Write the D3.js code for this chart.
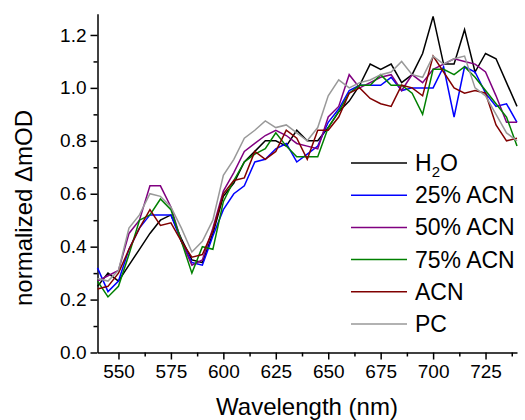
<!DOCTYPE html>
<html>
<head>
<meta charset="utf-8">
<script src="https://cdn.jsdelivr.net/npm/d3@7"></script>
<style>
  body { margin: 0; background: #fff; }
  svg { display: block; font-family: "Liberation Sans", Arial, sans-serif; }
  .axis path, .axis line { stroke: #000; stroke-width: 1.5; }
  .axis text { font-size: 19px; fill: #000; }
</style>
</head>
<body>
<svg id="chart" width="525" height="420"></svg>
<script>
const wavelengths = d3.range(540, 741, 5);

const h2o = [0.25, 0.30, 0.27, 0.33, 0.39, 0.45, 0.50, 0.52, 0.43, 0.35, 0.34, 0.45, 0.59, 0.64, 0.72, 0.76, 0.80, 0.80, 0.78, 0.84, 0.80,
  0.80, 0.85, 0.91, 0.95, 1.01, 1.09, 1.07, 1.09, 1.02, 1.05, 1.13, 1.27, 1.09, 1.09, 1.22, 1.06, 1.13, 1.11, 1.02, 0.93];
const acn25 = [0.32, 0.23, 0.27, 0.39, 0.47, 0.52, 0.52, 0.52, 0.42, 0.34, 0.33, 0.44, 0.54, 0.60, 0.63, 0.72, 0.73, 0.77, 0.79, 0.72, 0.75,
  0.78, 0.87, 0.92, 0.99, 1.01, 1.01, 1.01, 1.04, 0.99, 1.00, 1.00, 1.00, 1.08, 0.89, 1.08, 1.06, 0.98, 0.93, 0.94, 0.87];
const acn50 = [0.27, 0.29, 0.31, 0.45, 0.50, 0.63, 0.63, 0.55, 0.42, 0.33, 0.35, 0.47, 0.61, 0.68, 0.76, 0.79, 0.82, 0.84, 0.82, 0.79, 0.78,
  0.77, 0.89, 0.93, 1.05, 1.00, 1.02, 1.04, 1.05, 0.99, 1.05, 1.02, 1.07, 1.09, 1.11, 1.10, 1.09, 1.06, 0.97, 0.87, 0.87];
const acn75 = [0.27, 0.21, 0.25, 0.37, 0.50, 0.52, 0.58, 0.54, 0.42, 0.30, 0.40, 0.39, 0.57, 0.65, 0.72, 0.75, 0.77, 0.83, 0.78, 0.74, 0.74,
  0.74, 0.85, 0.91, 0.98, 1.01, 1.01, 1.05, 1.01, 1.01, 0.98, 0.90, 1.07, 1.07, 1.05, 1.08, 1.04, 0.99, 0.94, 0.89, 0.78];
const acn = [0.24, 0.25, 0.30, 0.39, 0.47, 0.54, 0.48, 0.49, 0.42, 0.36, 0.37, 0.46, 0.60, 0.65, 0.66, 0.76, 0.73, 0.76, 0.84, 0.81, 0.73,
  0.84, 0.84, 0.89, 0.98, 1.00, 0.96, 0.94, 0.93, 1.01, 1.00, 0.97, 1.12, 1.06, 1.00, 0.98, 0.99, 0.98, 0.86, 0.80, 0.81];
const pc = [0.28, 0.27, 0.31, 0.47, 0.52, 0.60, 0.59, 0.55, 0.47, 0.38, 0.42, 0.50, 0.67, 0.73, 0.81, 0.84, 0.875, 0.85, 0.86, 0.83, 0.80,
  0.85, 0.97, 1.03, 1.00, 1.02, 1.03, 1.05, 1.06, 1.10, 1.05, 1.04, 1.12, 1.09, 1.11, 1.12, 1.00, 0.97, 0.90, 0.83, 0.80];

const seriesNames = ['H2O', '25% ACN', '50% ACN', '75% ACN', 'ACN', 'PC'];
const seriesColors = ['#000000', '#0000ff', '#800080', '#008000', '#800000', '#999999'];
const seriesValues = [h2o, acn25, acn50, acn75, acn, pc];

const xTicks = [550, 575, 600, 625, 650, 675, 700, 725];
const xMinor = [562.5, 587.5, 612.5, 637.5, 662.5, 687.5, 712.5, 737.5];
const yTicks = [0, 0.2, 0.4, 0.6, 0.8, 1.0, 1.2];
const yMinor = [0.1, 0.3, 0.5, 0.7, 0.9, 1.1];

const svg = d3.select('#chart');

const x = d3.scaleLinear().domain([540, 740]).range([97.5, 517]);
const y = d3.scaleLinear().domain([0, 1.28]).range([352.5, 13.8]);

// minor ticks first so the major axis sits on top
svg.append('g')
  .attr('class', 'axis')
  .attr('transform', `translate(0,${y(0)})`)
  .call(d3.axisBottom(x).tickValues(xMinor).tickSize(4).tickFormat(''))
  .select('.domain').remove();

svg.append('g')
  .attr('class', 'axis')
  .attr('transform', `translate(${x(540)},0)`)
  .call(d3.axisLeft(y).tickValues(yMinor).tickSize(4).tickFormat(''))
  .select('.domain').remove();

svg.append('g')
  .attr('class', 'axis')
  .attr('transform', `translate(0,${y(0)})`)
  .call(d3.axisBottom(x).tickValues(xTicks).tickSizeInner(7).tickSizeOuter(0).tickPadding(5));

svg.append('g')
  .attr('class', 'axis')
  .attr('transform', `translate(${x(540)},0)`)
  .call(d3.axisLeft(y).tickValues(yTicks).tickSizeInner(7).tickSizeOuter(0).tickPadding(4)
    .tickFormat(d3.format('.1f')));

const line = d3.line()
  .x((d, i) => x(wavelengths[i]))
  .y(d => y(d));

svg.append('g')
  .selectAll('path')
  .data(seriesValues)
  .join('path')
  .attr('d', line)
  .attr('fill', 'none')
  .attr('stroke', (d, i) => seriesColors[i])
  .attr('stroke-width', 1.5)
  .attr('stroke-linejoin', 'miter');

// legend
const legend = svg.append('g').attr('transform', 'translate(351,163)');
const items = legend.selectAll('g')
  .data(seriesNames)
  .join('g')
  .attr('transform', (d, i) => `translate(0,${i * 32.2})`);

items.append('line')
  .attr('x1', 0).attr('x2', 56)
  .attr('stroke', (d, i) => seriesColors[i])
  .attr('stroke-width', 1.5);

items.append('text')
  .attr('x', 64)
  .attr('y', 8)
  .attr('font-size', 23)
  .each(function(d) {
    const t = d3.select(this);
    if (d === 'H2O') {
      t.append('tspan').text('H');
      t.append('tspan').attr('font-size', 15).attr('dy', 6).text('2');
      t.append('tspan').attr('dy', -6).text('O');
    } else {
      t.text(d);
    }
  });

// axis titles
svg.append('text')
  .attr('x', 307)
  .attr('y', 415)
  .attr('text-anchor', 'middle')
  .attr('font-size', 24)
  .text('Wavelength (nm)');

svg.append('text')
  .attr('transform', 'translate(32,208) rotate(-90)')
  .attr('text-anchor', 'middle')
  .attr('font-size', 24)
  .text('normalized \u0394mOD');
</script>
</body>
</html>
